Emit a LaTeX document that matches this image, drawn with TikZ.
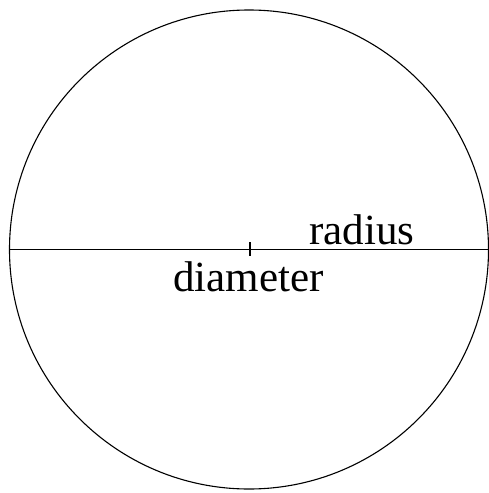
\documentclass[tikz,border=0pt]{standalone}
\usepackage{fontspec}
\setmainfont{Liberation Serif}
\begin{document}
\begin{tikzpicture}[x=1pt,y=-1pt,
  lbl/.style={inner sep=0pt,anchor=base,font=\fontsize{43}{50}\selectfont},
  stroke/.style={line width=1.1pt,black}]
\useasboundingbox (0,0) rectangle (489,493);
\node[stroke,draw,circle,minimum size=479pt,inner sep=0pt,outer sep=0pt] (c) at (249,249.5) {};
\coordinate (tickTop) at (250,242);
\coordinate (tickBot) at (250,256);
\draw[stroke] (c.west) -- (c.east);
\draw[stroke] (tickTop) -- (tickBot);
\node[lbl] (rad) at (362,244) {radius};
\node[lbl] (dia) at (248.5,291) {diameter};
\end{tikzpicture}
\end{document}
